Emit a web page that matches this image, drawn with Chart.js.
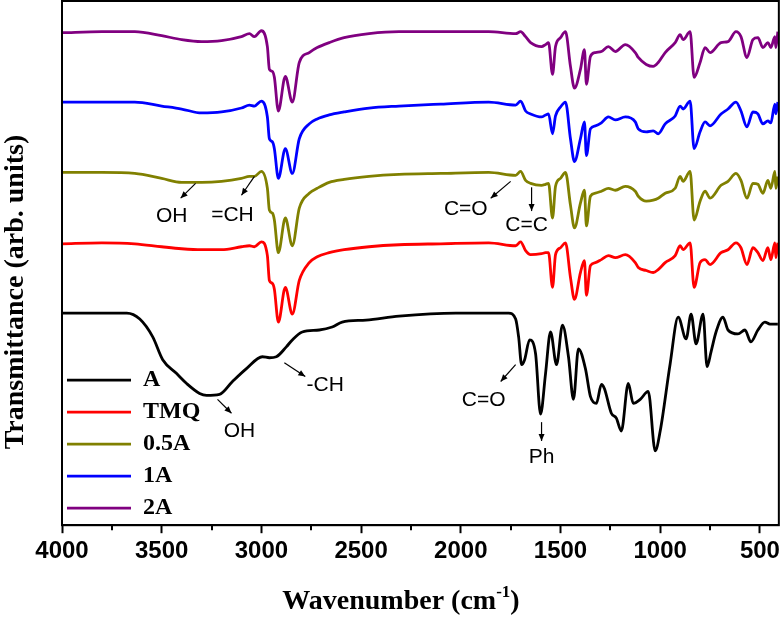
<!DOCTYPE html>
<html>
<head>
<meta charset="utf-8">
<script src="https://cdn.jsdelivr.net/npm/chart.js@4.4.0/dist/chart.umd.min.js"></script>
<style>
html, body { margin: 0; padding: 0; background: #fff; }
#wrap { width: 784px; height: 617px; }
</style>
</head>
<body>
<div id="wrap"><canvas id="ftir" width="784" height="617"></canvas></div>
<script>
// wavenumbers (cm-1) used for TMQ, 0.5A, 1A, 2A
var waveSeries = [4000, 3800, 3635, 3500, 3400, 3300, 3200, 3100, 3060, 3035,
	3000, 2970, 2960, 2945, 2935, 2915, 2880, 2845, 2810, 2760,
	2720, 2660, 2585, 2460, 2310, 2100, 1860, 1725, 1700, 1675,
	1650, 1595, 1575, 1560, 1540, 1525, 1500, 1475, 1450, 1430,
	1400, 1380, 1370, 1350, 1325, 1295, 1260, 1225, 1175, 1125,
	1110, 1070, 1035, 1010, 975, 925, 900, 885, 850, 830,
	800, 775, 750, 695, 660, 620, 595, 565, 535, 510,
	485, 460, 445, 425, 420, 410];

// transmittance, arb. units (curves are stacked)
var transTMQ = [284,285,284,281,279,278,278,281,282,281, 286,272,247,244,238,205,240,213,247,265,
	271,275,278,281,283,284,285,282,286,277, 273,274,275,275,240,273,280,285,250,228,
	255,267,232,262,265,268,272,270,273,265, 260,257,255,258,265,272,282,278,285,240,
	265,268,263,275,278,285,280,263,280,275, 267,280,268,285,270,285];
var trans05A = [356,356,355,350,346,346,347,350,352,352, 357,340,318,315,308,275,310,282,320,335,
	340,346,349,352,354,355,356,353,357,348, 345,343,344,345,310,342,350,356,323,300,
	325,338,302,332,335,337,340,338,342,337, 332,327,328,330,335,340,352,347,357,308,
	327,337,330,343,347,355,348,330,345,344, 335,348,340,357,340,352];
var trans1A = [427,427,427,423,420,416,417,421,424,423, 428,412,390,387,380,350,380,355,390,405,
	410,414,417,421,423,425,427,424,428,418, 415,412,414,415,395,413,422,427,390,367,
	390,407,373,400,403,406,412,409,412,407, 400,397,398,395,405,413,423,420,428,380,
	397,407,403,415,420,427,418,402,417,415, 405,408,406,425,415,427];
var trans2A = [497,498,498,494,490,488,489,493,496,493, 499,483,460,458,452,418,453,427,467,477,
	482,487,492,496,498,498,498,496,498,493, 487,483,485,487,455,483,492,498,463,441,
	460,480,445,473,477,478,483,478,485,477, 472,465,463,467,477,487,495,490,498,452,
	467,482,477,487,488,498,493,472,490,492, 482,487,482,493,482,498];

// sample A has its own grid
var waveA = [4000,3800,3675,3610,3545,3495,3425,3375,3310,3275, 3210,3145,3075,2995,2960,2925,2875,2845,2795,2710,
	2645,2595,2475,2310,2025,1760,1725,1710,1695,1680, 1655,1625,1600,1575,1550,1520,1490,1460,1435,1410,
	1375,1350,1320,1295,1280,1245,1220,1195,1160,1135, 1100,1060,1025,1000,950,910,870,845,820,785,
	765,745,720,685,660,610,575,545,510,475, 450,410];
var transA = [214,214,214,208,190,167,153,143,133,131, 132,145,158,170,169,170,180,187,195,197,
	200,205,207,211,214,214,208,190,162,167, 187,173,112,153,195,162,202,170,127,178,
	158,130,123,142,138,113,108,95,143,123, 127,135,75,95,163,210,188,213,183,213,
	160,175,195,210,197,193,197,185,197,205, 203,203];

var majorTicks = [4000, 3500, 3000, 2500, 2000, 1500, 1000, 500];
var minorTicks = [3750, 3250, 2750, 2250, 1750, 1250, 750];

var sampleNames = ['A', 'TMQ', '0.5A', '1A', '2A'];
var sampleColors = ['#000000', '#ff0000', '#808000', '#0000ff', '#800080'];

// band labels: text position and arrow, in wavenumber / transmittance
var bandNotes = [
	{text: 'OH', x: 3450, y: 312, from: [3330, 345], to: [3405, 330]},
	{text: '=CH', x: 3145, y: 313, from: [3035, 352], to: [3100, 333]},
	{text: 'C=O', x: 1975, y: 319, from: [1750, 347], to: [1850, 330]},
	{text: 'C=C', x: 1670, y: 303, from: [1645, 341], to: [1645, 317]},
	{text: '-CH', x: 2680, y: 141, from: [2885, 164], to: [2780, 150]},
	{text: 'OH', x: 3110, y: 95, from: [3220, 127], to: [3150, 113]},
	{text: 'C=O', x: 1885, y: 126, from: [1725, 162], to: [1800, 145]},
	{text: 'Ph', x: 1595, y: 69, from: [1595, 104], to: [1595, 85]}
];

function toPoints(xs, ys) {
	var pts = [];
	for (var i = 0; i < xs.length; i++) {
		pts.push({x: xs[i], y: ys[i]});
	}
	return pts;
}

var seriesY = [transA, transTMQ, trans05A, trans1A, trans2A];
var seriesX = [waveA, waveSeries, waveSeries, waveSeries, waveSeries];

var datasets = [];
for (var k = 0; k < sampleNames.length; k++) {
	datasets.push({
		label: sampleNames[k],
		data: toPoints(seriesX[k], seriesY[k]),
		borderColor: sampleColors[k],
		backgroundColor: sampleColors[k],
		borderWidth: 2.8,
		pointRadius: 0,
		cubicInterpolationMode: 'monotone',
		fill: false
	});
}

function drawArrow(ctx, x1, y1, x2, y2) {
	ctx.beginPath();
	ctx.moveTo(x1, y1);
	ctx.lineTo(x2, y2);
	ctx.stroke();
	var a = Math.atan2(y2 - y1, x2 - x1);
	ctx.beginPath();
	ctx.moveTo(x2, y2);
	ctx.lineTo(x2 - 7 * Math.cos(a) + 3 * Math.sin(a), y2 - 7 * Math.sin(a) - 3 * Math.cos(a));
	ctx.lineTo(x2 - 7 * Math.cos(a) - 3 * Math.sin(a), y2 - 7 * Math.sin(a) + 3 * Math.cos(a));
	ctx.closePath();
	ctx.fill();
}

var extras = {
	id: 'extras',
	afterLayout: function(chart) {
		// nudge the in-plot legend to the lower left corner
		if (chart.legend) {
			chart.legend.left -= 3;
			chart.legend.bottom += 4;
		}
	},
	afterDraw: function(chart) {
		var ctx = chart.ctx;
		var area = chart.chartArea;
		var xs = chart.scales.x;
		var ys = chart.scales.y;
		ctx.save();

		// frame
		ctx.strokeStyle = '#000';
		ctx.lineWidth = 2;
		ctx.strokeRect(area.left, area.top, area.right - area.left, area.bottom - area.top);

		// minor ticks
		ctx.beginPath();
		minorTicks.forEach(function(v) {
			var px = Math.round(xs.getPixelForValue(v));
			ctx.moveTo(px, area.bottom);
			ctx.lineTo(px, area.bottom + 5);
		});
		ctx.stroke();

		// band labels
		ctx.fillStyle = '#000';
		ctx.lineWidth = 1.2;
		ctx.font = '21px "Liberation Sans"';
		ctx.textAlign = 'center';
		ctx.textBaseline = 'middle';
		bandNotes.forEach(function(n) {
			ctx.fillText(n.text, xs.getPixelForValue(n.x), ys.getPixelForValue(n.y));
			drawArrow(ctx,
				xs.getPixelForValue(n.from[0]), ys.getPixelForValue(n.from[1]),
				xs.getPixelForValue(n.to[0]), ys.getPixelForValue(n.to[1]));
		});

		// x title with superscript
		var big = 'bold 28px "Liberation Serif"';
		var small = 'bold 17px "Liberation Serif"';
		var t1 = 'Wavenumber (cm', t2 = '-1', t3 = ')';
		ctx.textAlign = 'left';
		ctx.textBaseline = 'alphabetic';
		ctx.font = big;
		var w1 = ctx.measureText(t1).width, w3 = ctx.measureText(t3).width;
		ctx.font = small;
		var w2 = ctx.measureText(t2).width;
		var sx = 401 - (w1 + w2 + w3) / 2;
		var base = 609;
		ctx.font = big;
		ctx.fillText(t1, sx, base);
		ctx.font = small;
		ctx.fillText(t2, sx + w1, base - 12);
		ctx.font = big;
		ctx.fillText(t3, sx + w1 + w2, base);

		// y title
		ctx.translate(16, 292);
		ctx.rotate(-Math.PI / 2);
		ctx.textAlign = 'center';
		ctx.textBaseline = 'middle';
		ctx.font = big;
		ctx.fillText('Transmittance (arb. units)', 0, 0);
		ctx.restore();
	}
};

var chart = new Chart(document.getElementById('ftir').getContext('2d'), {
	type: 'line',
	data: {datasets: datasets},
	options: {
		responsive: false,
		animation: false,
		layout: {padding: {left: 62, right: 3, top: 1, bottom: 47}},
		plugins: {
			tooltip: {enabled: false},
			legend: {
				position: 'chartArea',
				align: 'end',
				labels: {
					usePointStyle: true,
					pointStyle: 'line',
					pointStyleWidth: 64,
					padding: 8,
					color: '#000',
					font: {family: 'Liberation Serif', size: 24, weight: 'bold'}
				}
			}
		},
		scales: {
			x: {
				type: 'linear',
				reverse: true,
				min: 405,
				max: 4000,
				afterBuildTicks: function(scale) {
					scale.ticks = majorTicks.map(function(v) { return {value: v}; });
				},
				ticks: {
					autoSkip: false,
					maxRotation: 0,
					padding: 4,
					color: '#000',
					font: {family: 'Liberation Sans', size: 24, weight: 'bold'},
					callback: function(v) { return String(v); }
				},
				grid: {display: true, drawOnChartArea: false, drawTicks: true, tickLength: 8, tickWidth: 2, tickColor: '#000'},
				border: {display: true, color: '#000', width: 2}
			},
			y: {
				display: false,
				min: 0,
				max: 529
			}
		}
	},
	plugins: [extras]
});
</script>
</body>
</html>
